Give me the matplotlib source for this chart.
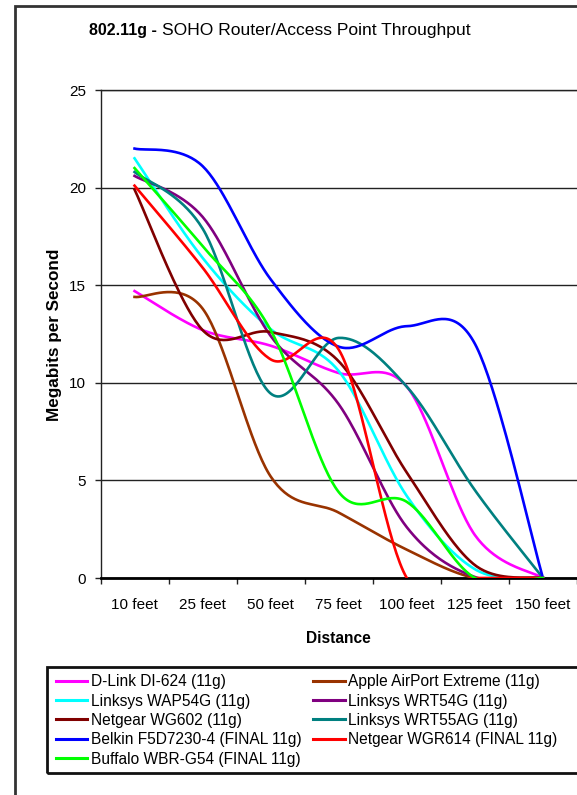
import numpy as np
import matplotlib
matplotlib.use("Agg")
import matplotlib.pyplot as plt
from matplotlib.lines import Line2D
from matplotlib.patches import Rectangle

plt.rcParams['font.family'] = ['Liberation Sans', 'DejaVu Sans']

# ---- data -----------------------------------------------------------
distances = ["10 feet", "25 feet", "50 feet", "75 feet", "100 feet", "125 feet", "150 feet"]

dlink_di624 = [14.7, 12.7, 11.9, 10.5, 9.8, 2.2, 0.0]
apple_airport_extreme = [14.4, 13.8, 5.2, 3.35, 1.45, 0.0, 0.0]
linksys_wap54g = [21.5, 16.4, 12.75, 10.6, 4.2, 0.45, 0.0]
linksys_wrt54g = [20.6, 18.5, 12.4, 8.9, 2.6, 0.05, 0.0]
netgear_wg602 = [19.9, 12.7, 12.6, 11.1, 5.4, 0.66, 0.0]
linksys_wrt55ag = [20.8, 17.9, 9.45, 12.3, 9.8, 4.5, 0.0]
belkin_f5d7230 = [22.0, 21.1, 15.3, 11.85, 12.9, 12.0, 0.0]
netgear_wgr614 = [20.1, 15.9, 11.2, 11.7, 0.0, 0.0, 0.0]
buffalo_wbr_g54 = [21.0, 17.0, 12.7, 4.4, 3.9, 0.0, 0.0]

series_names = [
    "D-Link DI-624 (11g)",
    "Apple AirPort Extreme (11g)",
    "Linksys WAP54G (11g)",
    "Linksys WRT54G (11g)",
    "Netgear WG602 (11g)",
    "Linksys WRT55AG (11g)",
    "Belkin F5D7230-4 (FINAL 11g)",
    "Netgear WGR614 (FINAL 11g)",
    "Buffalo WBR-G54 (FINAL 11g)",
]
series_values = [
    dlink_di624, apple_airport_extreme, linksys_wap54g, linksys_wrt54g,
    netgear_wg602, linksys_wrt55ag, belkin_f5d7230, netgear_wgr614, buffalo_wbr_g54,
]
series_colors = [
    "#FF00FF", "#993300", "#00FFFF", "#800080",
    "#800000", "#008080", "#0000FF", "#FF0000", "#00FF00",
]
y_ticks = [0, 5, 10, 15, 20, 25]

W, H = 577, 795


def fx(px):
    return px / W


def fy(py):
    return 1 - py / H


def smooth(values, samples=40):
    """Cubic Bezier smoothing through every point (Catmull-Rom style)."""
    y = np.asarray(values, float)
    n = len(y)
    pts = np.column_stack([np.arange(n, dtype=float), y])
    padded = np.vstack([pts[0], pts, pts[-1]])
    t = np.linspace(0, 1, samples)[:, None]
    out = []
    for i in range(n - 1):
        p0, p1, p2, p3 = padded[i], padded[i + 1], padded[i + 2], padded[i + 3]
        b1 = p1 + (p2 - p0) / 6
        b2 = p2 - (p3 - p1) / 6
        seg = ((1 - t) ** 3) * p1 + 3 * ((1 - t) ** 2) * t * b1 \
            + 3 * (1 - t) * t ** 2 * b2 + t ** 3 * p2
        out.append(seg if i == 0 else seg[1:])
    return np.vstack(out)


fig = plt.figure(figsize=(W / 100, H / 100), dpi=100)

# outer chart border
fig.add_artist(Rectangle((fx(15), fy(830)), fx(660) - fx(15), fy(6) - fy(830),
                         transform=fig.transFigure, fill=False,
                         edgecolor="#333333", linewidth=2))

ax = fig.add_axes([fx(100.5), fy(578), fx(577) - fx(100.5), fy(90) - fy(578)])
ax.set_facecolor("white")

for name, vals, col in zip(series_names, series_values, series_colors):
    pts = smooth(vals)
    ax.plot(pts[:, 0], pts[:, 1], color=col, lw=1.9, label=name,
            solid_joinstyle="round", zorder=3)

ax.set_xlim(-0.5, len(distances) - 0.5)
ax.set_ylim(0, 25)

ax.set_xticks(range(len(distances)))
ax.set_xticklabels(distances, fontsize=11)
ax.set_xticks(np.arange(-0.5, len(distances)), minor=True)
ax.tick_params(axis="x", which="major", length=0, pad=14.7, colors="black")
ax.tick_params(axis="x", which="minor", length=4, width=1, direction="out", color="#222222")

ax.set_yticks(y_ticks)
ax.set_yticklabels([str(v) for v in y_ticks], fontsize=11)
ax.tick_params(axis="y", length=4, width=1, direction="out", pad=6.5, color="#222222")

ax.yaxis.grid(True, color="#222222", linewidth=1.0)
ax.set_axisbelow(True)

ax.spines["right"].set_visible(False)
ax.spines["top"].set_color("#222222")
ax.spines["top"].set_linewidth(1.0)
ax.spines["left"].set_color("#222222")
ax.spines["left"].set_linewidth(1.0)
ax.spines["bottom"].set_color("black")
ax.spines["bottom"].set_linewidth(2.0)

# title: bold model name followed by regular text
fig.text(fx(157), fy(34.5), "802.11g -", fontsize=11.5, fontweight="bold",
         ha="right", va="baseline")
fig.text(fx(162), fy(34.5), "SOHO Router/Access Point Throughput", fontsize=12.6,
         ha="left", va="baseline")

fig.text(fx(55), fy(334.5), "Megabits per Second", fontsize=12.3, fontweight="bold",
         rotation=90, ha="center", va="center")
fig.text(fx(338.5), fy(643), "Distance", fontsize=11.2, fontweight="bold",
         ha="center", va="baseline")

# legend box and entries (row-major, two columns)
fig.add_artist(Rectangle((fx(47), fy(773)), fx(660) - fx(47), fy(667) - fy(773),
                         transform=fig.transFigure, fill=False,
                         edgecolor="#111111", linewidth=2))
col_line_x = [(56, 87), (313, 345)]
col_text_x = [91, 348]
for k, (name, col) in enumerate(zip(series_names, series_colors)):
    row, c = divmod(k, 2)
    yc = 680.8 + 19.3 * row
    x0, x1 = col_line_x[c]
    fig.add_artist(Line2D([fx(x0), fx(x1)], [fy(yc), fy(yc)], transform=fig.transFigure,
                          color=col, lw=2.2))
    fig.text(fx(col_text_x[c]), fy(yc + 5.6), name, fontsize=11.2,
             ha="left", va="baseline")

fig.savefig("out.png", dpi=100, facecolor="white")
